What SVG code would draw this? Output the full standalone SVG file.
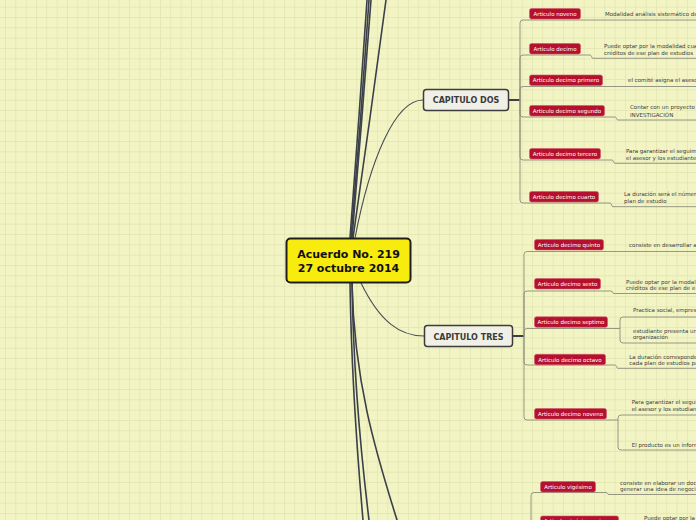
<svg xmlns="http://www.w3.org/2000/svg" width="696" height="520" viewBox="0 0 696 520">
<defs>
<pattern id="grid" width="10.333" height="10.333" patternUnits="userSpaceOnUse" x="5" y="6.7">
<path d="M0,0.5 H10.333 M0.5,0 V10.333" stroke="#e4e8b4" stroke-width="1" fill="none"/>
</pattern>
<style>
.main{fill:none;stroke:#3b4049;stroke-width:1.6;stroke-linecap:round}
.thin{fill:none;stroke:#4a4e55;stroke-width:1.1;stroke-linecap:round}
.thick{fill:none;stroke:#3b4049;stroke-width:2}
.br{fill:none;stroke:#8c8c7c;stroke-width:0.9}
.art rect{fill:#b5112e;stroke:#d0576a;stroke-width:0.6}
.art text{fill:#ffffff;font-family:"DejaVu Sans",sans-serif;font-size:5.5px;text-anchor:middle}
.desc text{fill:#3d3d3d;font-family:"DejaVu Sans",sans-serif;font-size:5.5px}
.cap rect{fill:#f1f0e6;stroke:#3c3c3c;stroke-width:1.5}
.cap text{fill:#3a3a3a;font-family:"DejaVu Sans",sans-serif;font-weight:bold;font-size:8px;text-anchor:middle}
</style>
</defs>
<rect width="696" height="520" fill="#f2f4c4"/>
<rect width="696" height="520" fill="url(#grid)"/>

<g id="connectors">
<!-- from center upward -->
<path class="main" d="M350,238 Q359,120 367,0"/>
<path class="main" d="M351,238 Q361,120 369,0"/>
<path class="main" d="M352,238 Q362,120 371,0"/>
<path class="main" d="M353,238 Q370,120 386,0"/>
<!-- from center downward -->
<path class="main" d="M350,283 C351,350 356,440 363,520"/>
<path class="main" d="M352,283 C353,350 358,430 369,520"/>
<path class="main" d="M352,283 C354,380 375,450 397,520"/>
<!-- to capitulo dos / tres -->
<path class="thin" d="M355,238 C370,160 395,100 423,100"/>
<path class="thin" d="M361,283 C380,322 400,336 424,336"/>
<path class="thick" d="M508,100 H520"/>
<path class="thick" d="M513,336 H524"/>

<!-- CAPITULO DOS children -->
<path class="br" d="M520,100 V23 Q520,20 523,20 H696"/>
<path class="br" d="M520,100 V58 Q520,55 523,55 H590 C592,55 591,58.3 593,58.3 H696"/>
<path class="br" d="M520,100 V89.5 Q520,86.5 523,86.5 H696"/>
<path class="br" d="M520,100 V114 Q520,117 523,117 H615 C617,117 616,120 618,120 H696"/>
<path class="br" d="M520,100 V157 Q520,160 523,160 H612 C614,160 613,163.3 615,163.3 H696"/>
<path class="br" d="M520,100 V200 Q520,203 523,203 H610 C612,203 611,206.7 613,206.7 H696"/>

<!-- CAPITULO TRES children -->
<path class="br" d="M524,336 V254.5 Q524,251.5 527,251.5 H696"/>
<path class="br" d="M524,336 V294 Q524,291 527,291 H611 C613,291 612,293.5 614,293.5 H696"/>
<path class="br" d="M524,336 V331.5 Q524,328.5 527,328.5 H620"/>
<path class="br" d="M620,328.5 V320 Q620,317 623,317 H696"/>
<path class="br" d="M620,328.5 V340 Q620,343 623,343 H696"/>
<path class="br" d="M524,336 V362 Q524,365 527,365 H615 C617,365 616,368.3 618,368.3 H696"/>
<path class="br" d="M524,336 V417 Q524,420 527,420 H618"/>
<path class="br" d="M618,420 V418 Q618,415 621,415 H696"/>
<path class="br" d="M618,420 V447 Q618,450 621,450 H696"/>

<!-- bottom chapter children -->
<path class="br" d="M531,520 V495.5 Q531,492.5 534,492.5 H606 C608,492.5 607,494.5 609,494.5 H696"/>
</g>

<g id="center">
<rect x="286.5" y="238.5" width="124" height="44" rx="4" fill="#f8ec0f" stroke="#1e1e1e" stroke-width="2"/>
<text x="348.5" y="258" font-family="DejaVu Sans, sans-serif" font-weight="bold" font-size="11" text-anchor="middle" fill="#111">Acuerdo No. 219</text>
<text x="348.5" y="272" font-family="DejaVu Sans, sans-serif" font-weight="bold" font-size="11" text-anchor="middle" fill="#111">27 octubre 2014</text>
</g>

<g id="capitulo-dos" class="cap">
<rect x="423.5" y="89.5" width="85" height="21" rx="3"/>
<text x="466" y="103">CAPITULO DOS</text>
</g>
<g id="capitulo-tres" class="cap">
<rect x="424.5" y="325.5" width="88" height="21" rx="3"/>
<text x="468.5" y="339.5">CAPITULO TRES</text>
</g>

<!-- CAPITULO DOS articles -->
<g id="art-noveno" class="art"><rect x="529.5" y="8.5" width="51" height="10.5" rx="2"/><text x="555" y="15.8">Articulo noveno</text></g>
<g id="art-decimo" class="art"><rect x="529.5" y="43.5" width="51" height="10.5" rx="2"/><text x="555" y="50.8">Articulo decimo</text></g>
<g id="art-decimo-primero" class="art"><rect x="529.5" y="75" width="73" height="10.5" rx="2"/><text x="566" y="82.3">Articulo decimo primero</text></g>
<g id="art-decimo-segundo" class="art"><rect x="529.5" y="105.5" width="75" height="10.5" rx="2"/><text x="567" y="112.8">Articulo decimo segundo</text></g>
<g id="art-decimo-tercero" class="art"><rect x="529.5" y="148.5" width="71" height="10.5" rx="2"/><text x="565" y="155.8">Articulo decimo tercero</text></g>
<g id="art-decimo-cuarto" class="art"><rect x="529.5" y="191.5" width="69" height="10.5" rx="2"/><text x="564" y="198.8">Articulo decimo cuarto</text></g>

<g id="desc-noveno" class="desc"><text x="605" y="16">Modalidad análisis sistemático de</text></g>
<g id="desc-decimo" class="desc"><text x="604" y="48">Puede optar por la modalidad cua</text><text x="604" y="54.5">créditos de ese plan de estudios</text></g>
<g id="desc-decimo-primero" class="desc"><text x="628" y="82">el comité asigna el aseso</text></g>
<g id="desc-decimo-segundo" class="desc"><text x="630" y="109.3">Contar con un proyecto</text><text x="630" y="117">INVESTIGACIÓN</text></g>
<g id="desc-decimo-tercero" class="desc"><text x="626" y="153">Para garantizar el seguim</text><text x="626" y="159.5">el asesor y los estudiante</text></g>
<g id="desc-decimo-cuarto" class="desc"><text x="624" y="196">La duración será el númer</text><text x="624" y="202.5">plan de estudio</text></g>

<!-- CAPITULO TRES articles -->
<g id="art-decimo-quinto" class="art"><rect x="534.5" y="239.5" width="69" height="10.5" rx="2"/><text x="569" y="246.8">Articulo decimo quinto</text></g>
<g id="art-decimo-sexto" class="art"><rect x="534.5" y="278.5" width="66" height="10.5" rx="2"/><text x="567.5" y="285.8">Articulo decimo sexto</text></g>
<g id="art-decimo-septimo" class="art"><rect x="534.5" y="316.8" width="73" height="10.5" rx="2"/><text x="571" y="324.1">Articulo decimo septimo</text></g>
<g id="art-decimo-octavo" class="art"><rect x="534.5" y="354.3" width="71" height="10.5" rx="2"/><text x="570" y="361.6">Articulo decimo octavo</text></g>
<g id="art-decimo-noveno" class="art"><rect x="534.5" y="408.5" width="72" height="10.5" rx="2"/><text x="570.5" y="415.8">Articulo decimo noveno</text></g>

<g id="desc-decimo-quinto" class="desc"><text x="629" y="247">consiste en desarrollar a</text></g>
<g id="desc-decimo-sexto" class="desc"><text x="626" y="283.7">Puede optar por la modal</text><text x="626" y="289.7">créditos de ese plan de e</text></g>
<g id="desc-decimo-septimo-a" class="desc"><text x="633" y="312">Practica social, empres</text></g>
<g id="desc-decimo-septimo-b" class="desc"><text x="633" y="332.7">estudiante presenta un</text><text x="633" y="339.3">organización</text></g>
<g id="desc-decimo-octavo" class="desc"><text x="629.3" y="358.7">La duración corresponde</text><text x="629.3" y="365.3">cada plan de estudios pa</text></g>
<g id="desc-decimo-noveno-a" class="desc"><text x="631.7" y="403.7">Para garantizar el segui</text><text x="631.7" y="411">el asesor y los estudian</text></g>
<g id="desc-decimo-noveno-b" class="desc"><text x="631.7" y="447">El producto es un inform</text></g>

<!-- bottom chapter -->
<g id="art-vigesimo" class="art"><rect x="540.5" y="481.5" width="55" height="10.5" rx="2"/><text x="568" y="488.8">Articulo vigésimo</text></g>
<g id="desc-vigesimo" class="desc"><text x="620" y="485.3">consiste en elaborar un doc</text><text x="620" y="491.3">generar una idea de negoci</text></g>
<g id="art-vigesimo-primero" class="art"><rect x="540.5" y="516" width="78" height="10.5" rx="2"/><text x="579.5" y="523.3">Articulo vigésimo primero</text></g>
<g id="desc-vigesimo-primero" class="desc"><text x="644" y="519.5">Puede optar por la</text></g>
</svg>
